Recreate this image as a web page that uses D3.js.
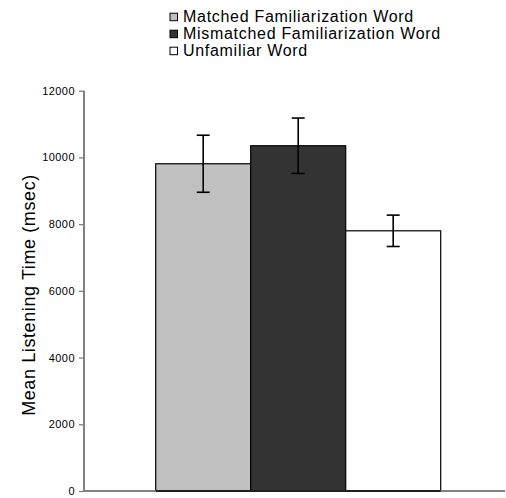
<!DOCTYPE html>
<html><head><meta charset="utf-8">
<script src="https://cdn.jsdelivr.net/npm/d3@7"></script>
<style>body{margin:0;background:#fff}svg{display:block;font-family:"Liberation Sans",Arial,sans-serif}</style>
</head><body><svg id="c" width="506" height="498"></svg>
<script>
const categories = ["Matched Familiarization Word","Mismatched Familiarization Word","Unfamiliar Word"];
const values = [9810, 10350, 7800];
const errors = [855, 830, 470];
const colors = ["#c0c0c0","#333333","#ffffff"];
const yTicks = [0,2000,4000,6000,8000,10000,12000];

const svg = d3.select("#c");
const y = d3.scaleLinear().domain([0,12000]).range([491,90.7]);
const x = d3.scaleBand().domain(categories).range([155.7,440.7]).padding(0);

// bars
svg.selectAll("rect.bar").data(categories).enter().append("rect")
  .attr("x", d=>x(d)).attr("width", x.bandwidth())
  .attr("y", (d,i)=>y(values[i])).attr("height",(d,i)=>y(0)-y(values[i]))
  .attr("fill",(d,i)=>colors[i]).attr("stroke","#000").attr("stroke-width",1.2);

// error bars
const eb = svg.selectAll("g.eb").data(categories).enter().append("g")
  .attr("stroke","#000").attr("stroke-width",1.6);
eb.append("line").attr("x1",d=>x(d)+x.bandwidth()/2).attr("x2",d=>x(d)+x.bandwidth()/2)
  .attr("y1",(d,i)=>y(values[i]+errors[i])).attr("y2",(d,i)=>y(values[i]-errors[i]));
[1,-1].forEach(s=>{
  eb.append("line").attr("x1",d=>x(d)+x.bandwidth()/2-6.5).attr("x2",d=>x(d)+x.bandwidth()/2+6.5)
    .attr("y1",(d,i)=>y(values[i]+s*errors[i])).attr("y2",(d,i)=>y(values[i]+s*errors[i]));
});

// y axis
const ya = svg.append("g").attr("transform","translate(84,0)")
  .call(d3.axisLeft(y).tickValues(yTicks).tickSize(5).tickPadding(4).tickFormat(d3.format("d")));
ya.select(".domain").remove();
ya.selectAll(".tick line").attr("stroke","#808080").attr("stroke-width",1.3);
ya.selectAll(".tick text").attr("font-size",11).attr("letter-spacing",0.45).attr("fill","#000")
  .attr("font-family","Liberation Sans, Arial, sans-serif");
svg.append("line").attr("x1",84).attr("x2",84).attr("y1",y(12000)).attr("y2",y(0)+1)
  .attr("stroke","#808080").attr("stroke-width",2);
// x axis
svg.append("line").attr("x1",84).attr("x2",505).attr("y1",y(0)).attr("y2",y(0))
  .attr("stroke","#808080").attr("stroke-width",2);
// bar bottoms in black over axis
svg.append("line").attr("x1",x.range()[0]).attr("x2",x.range()[1]).attr("y1",y(0)).attr("y2",y(0))
  .attr("stroke","#000").attr("stroke-width",1.6);

// y label
svg.append("text").attr("transform","translate(35,295) rotate(-90)")
  .attr("text-anchor","middle").attr("font-size",18).attr("letter-spacing",0.6).attr("fill","#000")
  .text("Mean Listening Time (msec)");

// legend
const lg = svg.selectAll("g.lg").data(categories).enter().append("g")
  .attr("transform",(d,i)=>`translate(170,${i*17})`);
lg.append("rect").attr("width",7.5).attr("height",7.5).attr("y",13.2)
  .attr("fill",(d,i)=>colors[i]).attr("stroke","#000").attr("stroke-width",1);
lg.append("text").attr("x",13).attr("y",21.5).attr("font-size",16).attr("letter-spacing",0.7)
  .attr("fill","#000").text(d=>d);
</script></body></html>
